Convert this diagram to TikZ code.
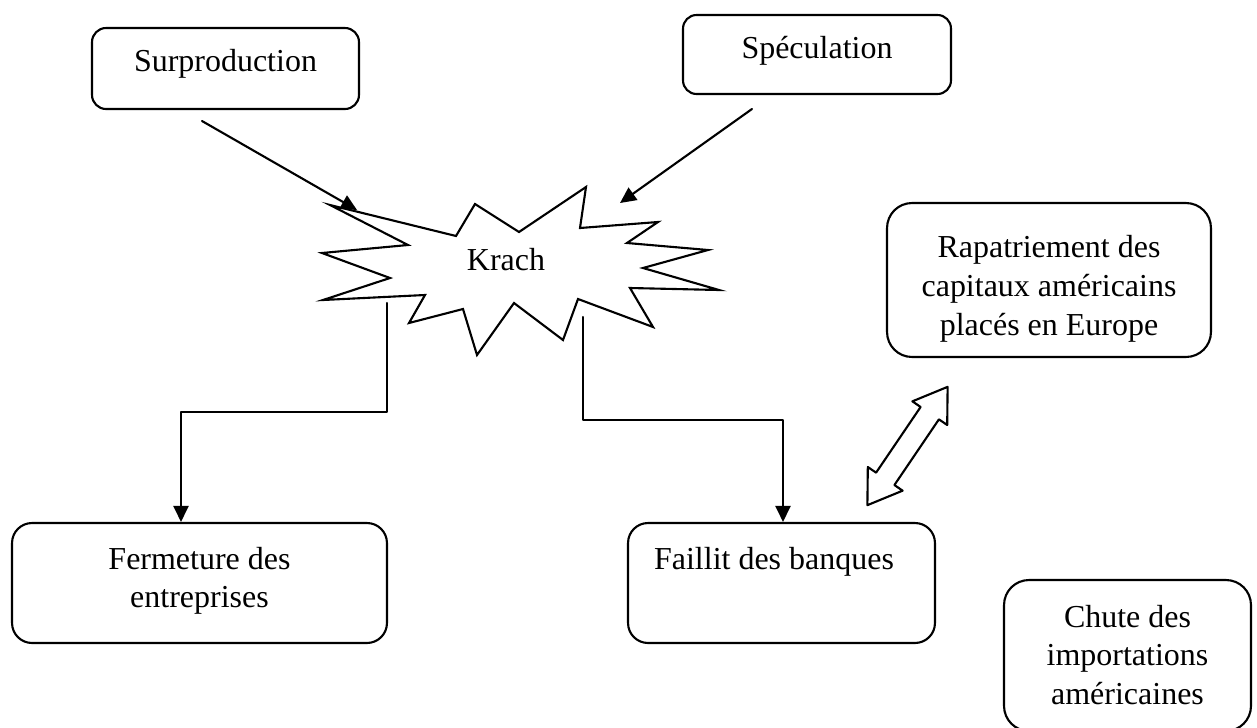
\documentclass[tikz,border=0pt]{standalone}
\usepackage{fontspec}
\setmainfont{Liberation Serif}
\usetikzlibrary{arrows.meta}
\usetikzlibrary{positioning}
\usetikzlibrary{shapes.arrows}

\tikzset{
  box/.style={draw, line width=1.2pt, rounded corners=#1, inner sep=0pt},
  box/.default=0.4cm,
  txt/.style={inner sep=0pt, align=center, font=\fontsize{18.2}{22}\selectfont},
  wire/.style={line width=1.2pt},
  twoway/.style={draw, double arrow, line width=1.2pt, inner xsep=0pt, inner ysep=0.2cm,
    minimum height=2.86cm, minimum width=0.8cm,
    double arrow head extend=0.2cm, double arrow tip angle=67}
}

\begin{document}
\begin{tikzpicture}[line cap=round,line join=round,>={Triangle[length=0.32cm,width=0.3cm]},x=0.02cm,y=-0.02cm]
\useasboundingbox (0,0) rectangle (1257,727);
% boxes
\node[box=0.28cm, minimum width=5.34cm, minimum height=1.62cm] (surp) at (225.5,68.5) {};
\node[box=0.27cm, minimum width=5.36cm, minimum height=1.58cm] (spec) at (817,54.5) {};
\node[box=0.5cm, minimum width=6.48cm, minimum height=3.08cm] (rap) at (1049,280) {};
\node[box, minimum width=7.5cm, minimum height=2.4cm] (ferm) at (199.5,583) {};
\node[box, minimum width=6.14cm, minimum height=2.4cm] (fail) at (781.5,583) {};
\node[box=0.5cm, minimum width=4.94cm, minimum height=3.02cm] (chute) at (1127.5,655.5) {};
% texts
\node[txt, below=0.45cm of surp.north] (surptxt) {Surproduction};
\node[txt, below=0.43cm of spec.north] (spectxt) {Spéculation};
\node[txt, below=0.67cm of rap.north] (raptxt) {Rapatriement des\\capitaux américains\\placés en Europe};
\node[txt, below=0.49cm of ferm.north] (fermtxt) {Fermeture des\\entreprises};
\node[txt, below=0.49cm of fail.north, xshift=-0.15cm] (failtxt) {Faillit des banques};
\node[txt, below=0.51cm of chute.north] (chutetxt) {Chute des\\importations\\américaines};
% krach
\draw[wire, line join=miter] (330,205) -- (456,236) -- (475,204) -- (519,232) -- (586,187)
  -- (580,228) -- (658,222) -- (627,243) -- (708,250) -- (643,268) -- (719,290)
  -- (630,288) -- (653,327) -- (578,299) -- (563,340) -- (514,303) -- (477,355)
  -- (463,309) -- (409,323) -- (425,295) -- (323,300) -- (390,278) -- (322,253)
  -- (408,245) -- cycle;
\node[txt, anchor=base] (krach) at (506,270) {Krach};
% arrows
\coordinate (s1) at (202,121);
\coordinate (s2) at (357,210);
\coordinate (p1) at (752,109);
\coordinate (p2) at (620,203);
\coordinate (k1) at (387,303);
\coordinate (f1) at (181,412);
\coordinate (k2) at (583,317);
\coordinate (f2) at (783,420);
\draw[wire,->] (s1) -- (s2);
\draw[wire,->] (p1) -- (p2);
\draw[wire,->] (k1) |- (f1) -- (f1 |- ferm.north);
\draw[wire,->] (k2) |- (f2) -- (f2 |- fail.north);
\node[twoway, rotate=55.86] (link) at (907.5,446) {};
\end{tikzpicture}
\end{document}
